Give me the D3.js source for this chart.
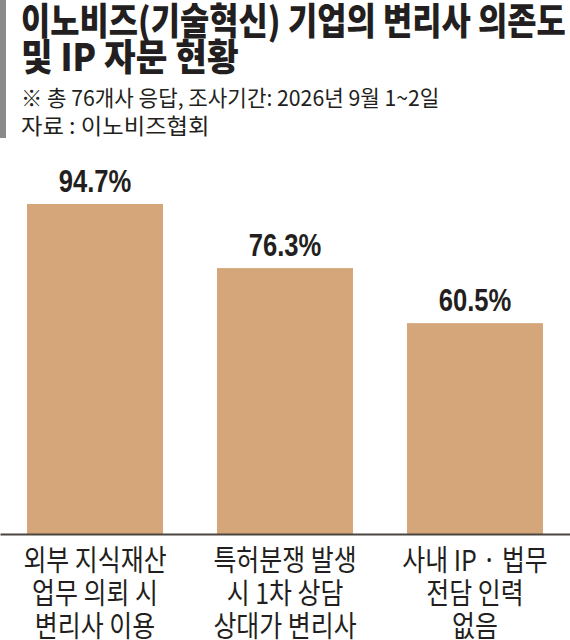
<!DOCTYPE html>
<html><head><meta charset="utf-8">
<script src="https://cdn.jsdelivr.net/npm/d3@7"></script>
<style>
html,body{margin:0;padding:0;background:#fff;}
svg{display:block;}
</style></head>
<body>
<script>
const titleLines = ["이노비즈(기술혁신) 기업의 변리사 의존도", "및 IP 자문 현황"];
const noteText = "※ 총 76개사 응답, 조사기간: 2026년 9월 1~2일";
const sourceText = "자료 : 이노비즈협회";
const categories = ["c1", "c2", "c3"];
const categoryLabels = [
  ["외부 지식재산", "업무 의뢰 시", "변리사 이용"],
  ["특허분쟁 발생", "시 1차 상담", "상대가 변리사"],
  ["사내 IP · 법무", "전담 인력", "없음"]
];
const values = [94.7, 76.3, 60.5];
const valueLabels = ["94.7%", "76.3%", "60.5%"];

const W = 570, H = 640;
const KR = "'Noto Sans CJK KR', 'Noto Sans', sans-serif";
const svg = d3.select("body").append("svg").attr("width", W).attr("height", H);

// left accent bar
svg.append("rect").attr("x", 0).attr("y", 0).attr("width", 6).attr("height", 138).attr("fill", "#8a8a8a");

// title
const titleK = [0.86, 0.93];
titleLines.forEach((t, i) => {
  svg.append("text")
    .attr("transform", `translate(21,${35 + i * 36}) scale(${titleK[i]},1)`)
    .attr("font-family", KR).attr("font-weight", 900).attr("font-size", 37)
    .attr("fill", "#231f20").text(t);
});
svg.append("text")
  .attr("transform", `translate(21,106) scale(0.965,1)`)
  .attr("font-family", KR).attr("font-weight", 400).attr("font-size", 22)
  .attr("fill", "#231f20").text(noteText);
svg.append("text")
  .attr("transform", `translate(21,134) scale(1.06,1)`)
  .attr("font-family", KR).attr("font-weight", 400).attr("font-size", 22)
  .attr("fill", "#231f20").text(sourceText);

// scales
const x = d3.scaleBand().domain(categories).range([0, W]).paddingInner(54 / 190).paddingOuter(27 / 190);
const y = d3.scaleLinear().domain([0, 100]).range([534, 185.5]);

svg.append("g").selectAll("rect").data(values).join("rect")
  .attr("x", (d, i) => x(categories[i]))
  .attr("y", d => y(d))
  .attr("width", x.bandwidth())
  .attr("height", d => y(0) - y(d))
  .attr("fill", "#d4a679");

svg.append("g").selectAll("text").data(values).join("text")
  .attr("transform", (d, i) => `translate(${x(categories[i]) + x.bandwidth() / 2},${y(d) - 12}) scale(0.8,1)`)
  .attr("text-anchor", "middle")
  .attr("font-family", "'Liberation Sans', Arial, sans-serif").attr("font-weight", 700).attr("font-size", 32)
  .attr("fill", "#231f20")
  .text((d, i) => valueLabels[i]);

// axis
const ax = svg.append("g").attr("transform", `translate(0,${y(0)})`)
  .call(d3.axisBottom(x).tickSize(0).tickSizeOuter(0).tickFormat(() => ""));
ax.select(".domain").attr("stroke", "#4a4541").attr("stroke-width", 2);
ax.selectAll(".tick text").remove();
ax.selectAll(".tick").each(function(d, i) {
  const t = d3.select(this).append("text")
    .attr("transform", "scale(0.86,1)")
    .attr("text-anchor", "middle")
    .attr("font-family", KR).attr("font-weight", 400).attr("font-size", 29)
    .attr("fill", "#231f20");
  categoryLabels[i].forEach((line, j) => {
    t.append("tspan").attr("x", 0).attr("y", 37 + j * 33).text(line);
  });
});
</script>
</body></html>
